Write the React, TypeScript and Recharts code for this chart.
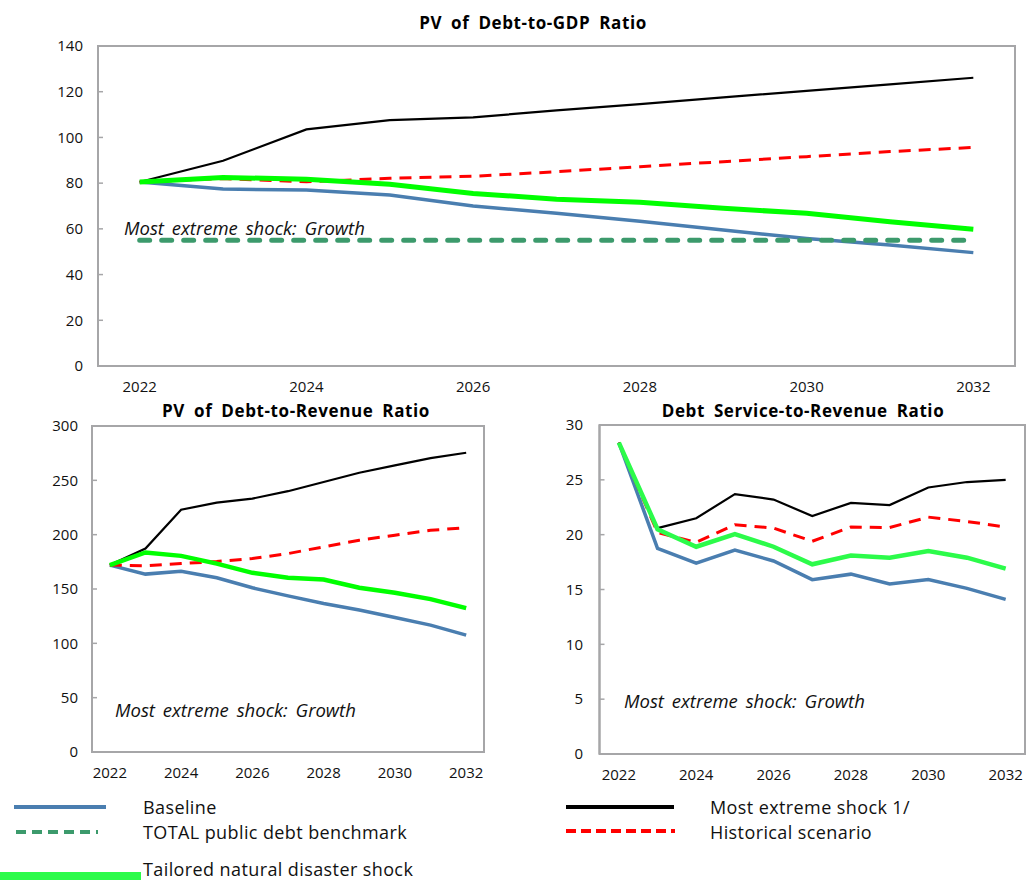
import React from 'react';
import { LineChart, Line, XAxis, YAxis, ReferenceArea } from 'recharts';

const years = [2022, 2023, 2024, 2025, 2026, 2027, 2028, 2029, 2030, 2031, 2032];
const labelYears = [2022, 2024, 2026, 2028, 2030, 2032];
const boundaryTicks = [2022.5, 2023.5, 2024.5, 2025.5, 2026.5, 2027.5, 2028.5, 2029.5, 2030.5, 2031.5];

// PV of Debt-to-GDP Ratio
const gdpBaseline = [80.5, 77.4, 77.0, 74.8, 70.0, 66.8, 63.3, 59.5, 55.8, 52.9, 49.6];
const gdpMostExtreme = [80.5, 89.8, 103.5, 107.6, 108.8, 111.8, 114.6, 117.5, 120.4, 123.2, 126.1];
const gdpHistorical = [80.5, 82.0, 80.6, 82.1, 83.0, 85.0, 87.2, 89.4, 91.6, 93.8, 95.6];
const gdpTailored = [80.5, 82.5, 81.7, 79.5, 75.5, 73.0, 71.6, 69.0, 66.8, 63.1, 59.8];
const gdpBenchmark = [55, 55, 55, 55, 55, 55, 55, 55, 55, 55, 55];
const gdpTicks = [0, 20, 40, 60, 80, 100, 120, 140];

// PV of Debt-to-Revenue Ratio
const revBaseline = [172, 163.7, 166.4, 160.3, 151.1, 143.7, 136.7, 130.6, 123.8, 116.8, 107.6];
const revMostExtreme = [172, 187.2, 223, 229.5, 233.2, 240, 248.5, 257, 263.8, 270.5, 275.4];
const revHistorical = [172, 171.3, 173.4, 175.3, 178, 182.6, 188.8, 194.9, 199.5, 204, 206.5];
const revTailored = [172, 183.6, 180.5, 173.4, 164.9, 160.3, 158.8, 151.1, 146.5, 140.7, 132.4];
const revTicks = [0, 50, 100, 150, 200, 250, 300];

// Debt Service-to-Revenue Ratio
const dsBaseline = [28.4, 18.75, 17.4, 18.6, 17.6, 15.9, 16.4, 15.5, 15.9, 15.1, 14.1];
const dsMostExtreme = [28.4, 20.6, 21.5, 23.7, 23.2, 21.7, 22.9, 22.7, 24.3, 24.8, 25.0];
const dsHistorical = [28.4, 20.2, 19.3, 20.9, 20.6, 19.4, 20.7, 20.65, 21.6, 21.2, 20.7];
const dsTailored = [28.4, 20.5, 18.9, 20.05, 18.9, 17.3, 18.1, 17.9, 18.5, 17.9, 16.9];
const dsTicks = [0, 5, 10, 15, 20, 25, 30];

const FONT = "'Open Sans', 'DejaVu Sans', sans-serif";
const AXIS = '#a6a6a8';
const BLUE = '#4a7eb0';
const RED = '#ff0000';
const GREEN = '#00ff00';
const GREEN2 = '#2cfb4a';
const BENCH = '#3c9a6c';

type PanelProps = {
  width: number;
  height: number;
  margin: { top: number; right: number; bottom: number; left: number };
  yTicks: number[];
  yMax: number;
  yTickMargin: number;
  baseline: number[];
  mostExtreme: number[];
  historical: number[];
  tailored: number[];
  benchmark?: number[];
  green: string;
  greenWidth: number;
};

function Panel(p: PanelProps) {
  const data = years.map((year, i) => ({
    year,
    baseline: p.baseline[i],
    mostExtreme: p.mostExtreme[i],
    historical: p.historical[i],
    tailored: p.tailored[i],
    benchmark: p.benchmark ? p.benchmark[i] : undefined,
  }));
  const tickStyle = { fontSize: 15, fill: '#111', fontFamily: FONT };
  return (
    <LineChart width={p.width} height={p.height} data={data} margin={p.margin}>
      <XAxis
        xAxisId="b"
        dataKey="year"
        type="number"
        domain={[2021.5, 2032.5]}
        ticks={boundaryTicks}
        interval={0}
        height={0}
        tickSize={-5}
        tickFormatter={() => ''}
        axisLine={{ stroke: AXIS, strokeWidth: 2 }}
        tickLine={{ stroke: AXIS, strokeWidth: 1.5 }}
      />
      <XAxis
        xAxisId="l"
        dataKey="year"
        type="number"
        domain={[2021.5, 2032.5]}
        ticks={labelYears}
        interval={0}
        height={30}
        tickSize={6}
        tickMargin={9}
        axisLine={false}
        tickLine={false}
        tick={tickStyle}
      />
      <YAxis
        yAxisId="y"
        type="number"
        domain={[0, p.yMax]}
        ticks={p.yTicks}
        interval={0}
        width={60}
        tickSize={-5}
        tickMargin={p.yTickMargin}
        axisLine={{ stroke: AXIS, strokeWidth: 2 }}
        tickLine={{ stroke: AXIS, strokeWidth: 1.5 }}
        tick={tickStyle}
      />
      <ReferenceArea
        xAxisId="l"
        yAxisId="y"
        x1={2021.5}
        x2={2032.5}
        y1={0}
        y2={p.yMax}
        fill="none"
        stroke={AXIS}
        strokeWidth={2}
      />
      <Line xAxisId="l" yAxisId="y" type="linear" dataKey="baseline" stroke={BLUE} strokeWidth={3.5} dot={false} isAnimationActive={false} />
      <Line xAxisId="l" yAxisId="y" type="linear" dataKey="mostExtreme" stroke="#000" strokeWidth={2.2} dot={false} isAnimationActive={false} />
      <Line xAxisId="l" yAxisId="y" type="linear" dataKey="historical" stroke={RED} strokeWidth={3} strokeDasharray="12 8" dot={false} isAnimationActive={false} />
      {p.benchmark && (
        <Line xAxisId="l" yAxisId="y" type="linear" dataKey="benchmark" stroke={BENCH} strokeWidth={5} strokeDasharray="10 12" strokeLinecap="round" dot={false} isAnimationActive={false} />
      )}
      <Line xAxisId="l" yAxisId="y" type="linear" dataKey="tailored" stroke={p.green} strokeWidth={p.greenWidth} dot={false} isAnimationActive={false} />
    </LineChart>
  );
}

const titleStyle: React.CSSProperties = {
  position: 'absolute',
  fontFamily: FONT,
  fontWeight: 700,
  fontSize: 17,
  wordSpacing: 4,
  letterSpacing: 0.6,
  whiteSpace: 'nowrap',
  transform: 'translate(-50%, -50%)',
  color: '#000',
};

const noteStyle: React.CSSProperties = {
  position: 'absolute',
  fontFamily: FONT,
  fontStyle: 'italic',
  fontSize: 18.5,
  wordSpacing: 3,
  whiteSpace: 'nowrap',
  transform: 'translateY(-50%)',
  color: '#111',
};

const legendText: React.CSSProperties = {
  position: 'absolute',
  fontFamily: FONT,
  fontSize: 18,
  letterSpacing: 0.4,
  whiteSpace: 'nowrap',
  transform: 'translateY(-50%)',
  color: '#111',
};

export default function App() {
  return (
    <div style={{ position: 'absolute', left: 0, top: 0, width: 1026, height: 880, background: '#fff', overflow: 'hidden' }}>
      <div style={{ position: 'absolute', left: 0, top: 0 }}>
        <Panel
          width={1026}
          height={400}
          margin={{ top: 46, right: 11, bottom: 4, left: 38 }}
          yTicks={gdpTicks}
          yMax={140}
          yTickMargin={20}
          baseline={gdpBaseline}
          mostExtreme={gdpMostExtreme}
          historical={gdpHistorical}
          tailored={gdpTailored}
          benchmark={gdpBenchmark}
          green={GREEN}
          greenWidth={5}
        />
      </div>
      <div style={{ position: 'absolute', left: 0, top: 400 }}>
        <Panel
          width={500}
          height={400}
          margin={{ top: 26, right: 16, bottom: 18, left: 32 }}
          yTicks={revTicks}
          yMax={300}
          yTickMargin={19}
          baseline={revBaseline}
          mostExtreme={revMostExtreme}
          historical={revHistorical}
          tailored={revTailored}
          green={GREEN}
          greenWidth={4.5}
        />
      </div>
      <div style={{ position: 'absolute', left: 520, top: 400 }}>
        <Panel
          width={506}
          height={400}
          margin={{ top: 25, right: 1, bottom: 16, left: 19.5 }}
          yTicks={dsTicks}
          yMax={30}
          yTickMargin={21.5}
          baseline={dsBaseline}
          mostExtreme={dsMostExtreme}
          historical={dsHistorical}
          tailored={dsTailored}
          green={GREEN2}
          greenWidth={4.5}
        />
      </div>

      <div style={{ ...titleStyle, left: 533, top: 22 }}>PV of Debt-to-GDP Ratio</div>
      <div style={{ ...titleStyle, left: 296, top: 410 }}>PV of Debt-to-Revenue Ratio</div>
      <div style={{ ...titleStyle, left: 803, top: 410 }}>Debt Service-to-Revenue Ratio</div>

      <div style={{ ...noteStyle, left: 124, top: 227 }}>Most extreme shock: Growth</div>
      <div style={{ ...noteStyle, left: 115, top: 709 }}>Most extreme shock: Growth</div>
      <div style={{ ...noteStyle, left: 624, top: 700 }}>Most extreme shock: Growth</div>

      <svg style={{ position: 'absolute', left: 0, top: 790 }} width={1026} height={90}>
        <line x1={14} y1={17} x2={106} y2={17} stroke={BLUE} strokeWidth={4} />
        <line x1={16} y1={42} x2={98} y2={42} stroke={BENCH} strokeWidth={4} strokeDasharray="10 6" />
        <line x1={0} y1={87} x2={141} y2={87} stroke={GREEN2} strokeWidth={10} />
        <line x1={566} y1={17} x2={674} y2={17} stroke="#000" strokeWidth={4} />
        <line x1={566} y1={41} x2={675} y2={41} stroke={RED} strokeWidth={4} strokeDasharray="10 5" />
      </svg>
      <div style={{ ...legendText, left: 143, top: 807 }}>Baseline</div>
      <div style={{ ...legendText, left: 143, top: 832 }}>TOTAL public debt benchmark</div>
      <div style={{ ...legendText, left: 143, top: 869 }}>Tailored natural disaster shock</div>
      <div style={{ ...legendText, left: 710, top: 807 }}>Most extreme shock 1/</div>
      <div style={{ ...legendText, left: 710, top: 832 }}>Historical scenario</div>
    </div>
  );
}
